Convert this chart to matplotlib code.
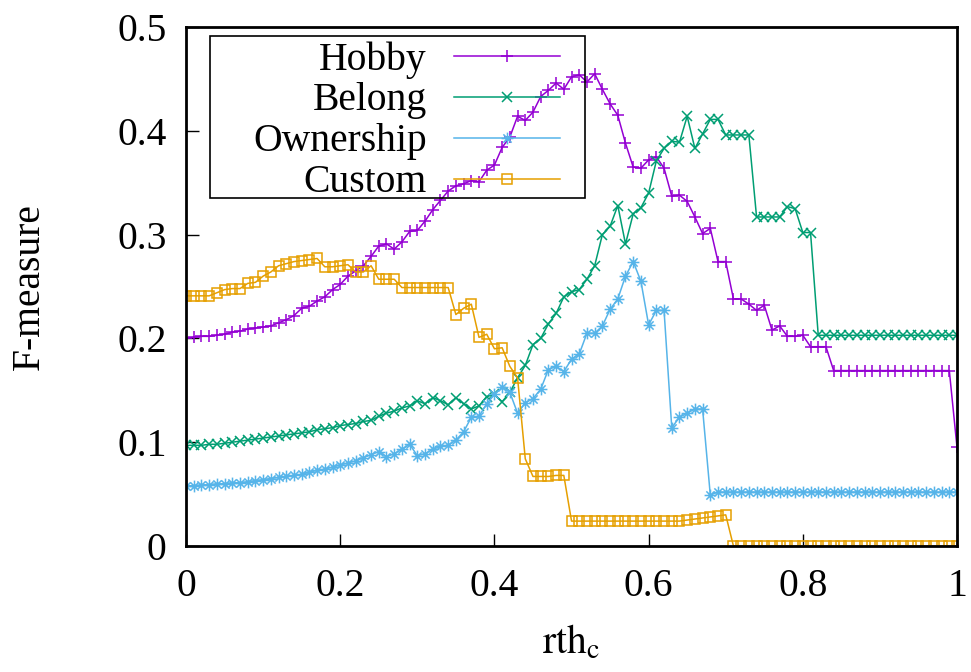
import numpy as np
import matplotlib
matplotlib.use('Agg')
import matplotlib.pyplot as plt
from matplotlib.path import Path
from matplotlib.patches import Rectangle

plt.rcParams['font.family'] = ['Liberation Serif', 'DejaVu Serif']
plt.rcParams['mathtext.fontset'] = 'stix'

# threshold rth_c, steps of 0.01
rth = np.round(np.arange(101) * 0.01, 2)

hobby = [0.200, 0.201, 0.202, 0.202, 0.203, 0.204, 0.206, 0.207, 0.209, 0.210,
         0.211, 0.212, 0.215, 0.218, 0.222, 0.229, 0.231, 0.236, 0.240, 0.247,
         0.252, 0.260, 0.265, 0.270, 0.279, 0.289, 0.291, 0.286, 0.293, 0.303,
         0.304, 0.313, 0.324, 0.333, 0.342, 0.347, 0.349, 0.352, 0.351, 0.362,
         0.367, 0.384, 0.394, 0.414, 0.410, 0.418, 0.433, 0.439, 0.446, 0.440,
         0.452, 0.454, 0.447, 0.455, 0.440, 0.426, 0.415, 0.388, 0.365, 0.364,
         0.372, 0.375, 0.364, 0.337, 0.338, 0.332, 0.317, 0.301, 0.306, 0.274,
         0.274, 0.238, 0.238, 0.233, 0.227, 0.232, 0.208, 0.212, 0.202, 0.202,
         0.203, 0.192, 0.192, 0.192, 0.169, 0.169, 0.169, 0.169, 0.169, 0.169,
         0.169, 0.169, 0.169, 0.169, 0.169, 0.169, 0.169, 0.169, 0.169, 0.169,
         0.095]

belong = [0.097, 0.097, 0.097, 0.098, 0.098, 0.099, 0.100, 0.101, 0.102, 0.103,
          0.104, 0.105, 0.106, 0.107, 0.108, 0.109, 0.110, 0.112, 0.113, 0.114,
          0.116, 0.117, 0.118, 0.120, 0.121, 0.125, 0.128, 0.130, 0.133, 0.135,
          0.140, 0.137, 0.143, 0.140, 0.136, 0.143, 0.137, 0.132, 0.135, 0.144,
          0.146, 0.139, 0.148, 0.162, 0.174, 0.194, 0.200, 0.214, 0.224, 0.240,
          0.245, 0.247, 0.257, 0.270, 0.300, 0.308, 0.328, 0.291, 0.320, 0.326,
          0.340, 0.371, 0.383, 0.390, 0.389, 0.414, 0.383, 0.397, 0.411, 0.411,
          0.396, 0.396, 0.396, 0.396, 0.317, 0.317, 0.317, 0.317, 0.327, 0.325,
          0.302, 0.302, 0.203, 0.203, 0.203, 0.203, 0.203, 0.203, 0.203, 0.203,
          0.203, 0.203, 0.203, 0.203, 0.203, 0.203, 0.203, 0.203, 0.203, 0.203,
          0.203]

ownership = [0.058, 0.058, 0.059, 0.059, 0.060, 0.060, 0.061, 0.061, 0.062, 0.063,
             0.064, 0.065, 0.066, 0.067, 0.068, 0.069, 0.071, 0.073, 0.074, 0.076,
             0.078, 0.080, 0.082, 0.085, 0.088, 0.091, 0.086, 0.089, 0.093, 0.098,
             0.087, 0.089, 0.093, 0.096, 0.097, 0.102, 0.110, 0.124, 0.125, 0.137,
             0.146, 0.153, 0.148, 0.128, 0.138, 0.142, 0.151, 0.170, 0.173, 0.168,
             0.180, 0.185, 0.205, 0.205, 0.212, 0.228, 0.238, 0.260, 0.274, 0.255,
             0.213, 0.227, 0.227, 0.114, 0.124, 0.128, 0.132, 0.132, 0.049, 0.052,
             0.052, 0.052, 0.052, 0.052, 0.052, 0.052, 0.052, 0.052, 0.052, 0.052,
             0.052, 0.052, 0.052, 0.052, 0.052, 0.052, 0.052, 0.052, 0.052, 0.052,
             0.052, 0.052, 0.052, 0.052, 0.052, 0.052, 0.052, 0.052, 0.052, 0.052,
             0.052]

custom = [0.241, 0.241, 0.241, 0.241, 0.244, 0.247, 0.248, 0.248, 0.253, 0.254,
          0.260, 0.264, 0.270, 0.272, 0.274, 0.275, 0.276, 0.277, 0.269, 0.269,
          0.270, 0.271, 0.264, 0.264, 0.270, 0.257, 0.257, 0.257, 0.249, 0.249,
          0.249, 0.249, 0.249, 0.249, 0.249, 0.223, 0.229, 0.233, 0.201, 0.204,
          0.190, 0.191, 0.173, 0.162, 0.084, 0.067, 0.067, 0.067, 0.068, 0.068,
          0.024, 0.024, 0.024, 0.024, 0.024, 0.024, 0.024, 0.024, 0.024, 0.024,
          0.024, 0.024, 0.024, 0.024, 0.024, 0.025, 0.026, 0.027, 0.028, 0.029,
          0.030, 0.000, 0.000, 0.000, 0.000, 0.000, 0.000, 0.000, 0.000, 0.000,
          0.000, 0.000, 0.000, 0.000, 0.000, 0.000, 0.000, 0.000, 0.000, 0.000,
          0.000, 0.000, 0.000, 0.000, 0.000, 0.000, 0.000, 0.000, 0.000, 0.000,
          0.000]

# gnuplot style "*" point = plus and cross on top of each other
star = Path([(-1, 0), (1, 0), (0, -1), (0, 1),
             (-0.7, -0.7), (0.7, 0.7), (-0.7, 0.7), (0.7, -0.7)],
            [Path.MOVETO, Path.LINETO] * 4)

fs = 28.5
fig = plt.figure(figsize=(9.71, 6.72), dpi=100)
ax = fig.add_axes([0.1916, 0.1875, 0.794, 0.7723])

lw = 1.1
ax.plot(rth, hobby, color='#9400D3', lw=lw, marker='+', ms=8.5, mew=1.1, label='Hobby')
ax.plot(rth, belong, color='#009E73', lw=lw, marker='x', ms=7.5, mew=1.1, label='Belong')
ax.plot(rth, ownership, color='#56B4E9', lw=lw, marker=star, ms=8.5, mew=1.1, label='Ownership')
ax.plot(rth, custom, color='#E69F00', lw=lw, marker='s', ms=7, mew=1.1, mfc='none', label='Custom')

ax.set_xlim(0, 1)
ax.set_ylim(0, 0.5)
ax.set_xticks([0, 0.2, 0.4, 0.6, 0.8, 1])
ax.set_xticklabels(['0', '0.2', '0.4', '0.6', '0.8', '1'])
ax.set_yticks([0, 0.1, 0.2, 0.3, 0.4, 0.5])
ax.set_yticklabels(['0', '0.1', '0.2', '0.3', '0.4', '0.5'])
ax.tick_params(direction='in', length=9, width=1, labelsize=fs, pad=14)
ax.tick_params(axis='x', pad=16)
for s in ax.spines.values():
    s.set_linewidth(2)

ax.set_xlabel(r'$\mathrm{rth}_\mathrm{c}$', fontsize=fs, labelpad=14)
ax.set_ylabel('F-measure', fontsize=fs, labelpad=50)

# legend: text right aligned, sample on the right, frame drawn separately
leg = ax.legend(loc='upper right', bbox_to_anchor=(0.485, 0.973), markerfirst=False,
                fontsize=fs, handlelength=2.68, handletextpad=0.68, labelspacing=0.1,
                borderpad=0, borderaxespad=0, frameon=False)
ax.add_patch(Rectangle((0.0311, 0.6705), 0.4864, 0.3122, transform=ax.transAxes,
                       fill=False, edgecolor='black', lw=1.2, zorder=5))

plt.savefig('out.png', dpi=100)
